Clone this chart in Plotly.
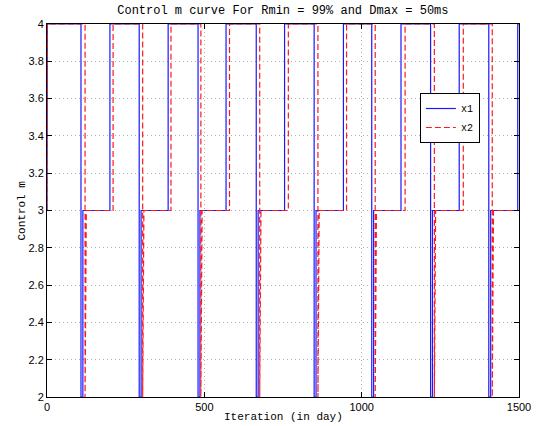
import plotly.graph_objects as go

# ---- data ----
x_range = [0, 1500]
y_range = [2, 4]
x_ticks = [0, 500, 1000, 1500]
y_ticks = [2, 2.2, 2.4, 2.6, 2.8, 3, 3.2, 3.4, 3.6, 3.8, 4]

level_high = 4
level_mid = 3
level_low = 2

# iterations where each series drops 4 -> 2 (then recovers to 3) and rises 3 -> 4
x1_drops = [108, 293, 480, 665, 849, 1032, 1219, 1404]
x1_rises = [200, 385, 569, 755, 942, 1125, 1310, 1496]
x1_recover = 6

x2_drops = [121, 304, 489, 676, 861, 1043, 1231, 1415]
x2_rises = [210, 394, 580, 767, 952, 1138, 1323]
x2_recover = 4

title_text = "Control m curve For Rmin = 99% and Dmax = 50ms"
x_title = "Iteration (in day)"
y_title = "Control m"


def build(drops, rises, rec, slanted):
    xs = [0, 1]
    ys = [level_mid, level_high]
    events = sorted([(d, "d") for d in drops] + [(r, "r") for r in rises])
    for t, k in events:
        if k == "d":
            xs += [t, t]
            ys += [level_high, level_low]
            if slanted:
                xs.append(t + rec)
                ys.append(level_mid)
            else:
                xs += [t + rec, t + rec]
                ys += [level_low, level_mid]
        else:
            xs += [t, t]
            ys += [level_mid, level_high]
    xs.append(x_range[1])
    ys.append(ys[-1])
    return xs, ys


x1x, x1y = build(x1_drops, x1_rises, x1_recover, False)
x2x, x2y = build(x2_drops, x2_rises, x2_recover, True)

mono = "Liberation Mono, Courier New, monospace"
sans = "Liberation Sans, Arial, Helvetica, sans-serif"

fig = go.Figure()
fig.add_trace(go.Scatter(x=x1x, y=x1y, mode="lines", name="x1",
                         line=dict(color="#1a1aff", width=1.2)))
fig.add_trace(go.Scatter(x=x2x, y=x2y, mode="lines", name="x2",
                         line=dict(color="#ff1a1a", width=1.2, dash="6px,3px")))

axis_common = dict(
    showline=True, linecolor="black", linewidth=1, mirror="ticks",
    ticks="inside", ticklen=5, tickcolor="black",
    showgrid=True, gridcolor="#b0b0b0", gridwidth=1, griddash="1px,3px",
    zeroline=False, tickfont=dict(family=sans, size=11, color="black"),
)

fig.update_xaxes(range=x_range, tickvals=x_ticks, **axis_common)
fig.update_yaxes(range=y_range, tickvals=y_ticks, **axis_common)

fig.update_layout(
    width=544, height=426,
    margin=dict(l=47, r=25, t=24, b=29),
    paper_bgcolor="white", plot_bgcolor="white",
    title=dict(text=title_text, x=0.52, xanchor="center", y=1 - 10 / 426,
               yanchor="middle", font=dict(family=mono, size=12, color="black")),
    showlegend=True,
    legend=dict(x=0.79, y=0.815, xanchor="left", yanchor="top",
                bgcolor="white", bordercolor="black", borderwidth=1,
                font=dict(family=mono, size=10, color="black"),
                itemwidth=30, tracegroupgap=0),
    annotations=[
        dict(text=x_title, xref="paper", yref="paper", x=0.5, y=-20 / 373,
             xanchor="center", yanchor="middle", showarrow=False,
             font=dict(family=mono, size=11, color="black")),
        dict(text=y_title, xref="paper", yref="paper", x=-26 / 472, y=0.5,
             xanchor="center", yanchor="middle", showarrow=False, textangle=-90,
             font=dict(family=mono, size=11, color="black")),
    ],
)

fig.write_html("out.html")
